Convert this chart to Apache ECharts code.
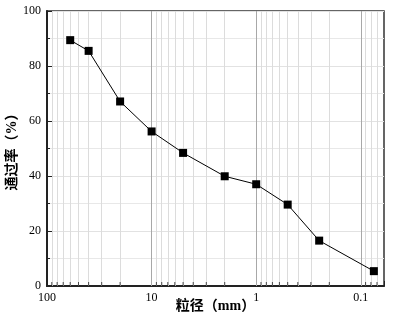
<!DOCTYPE html>
<html>
<head>
<meta charset="utf-8">
<script src="https://cdn.jsdelivr.net/npm/echarts@6/dist/echarts.min.js"></script>
<style>
  html, body { margin: 0; padding: 0; background: #fff; }
  #chart { width: 396px; height: 317px; }
</style>
</head>
<body>
<div id="chart"></div>
<script>
// 粒径 (mm) 和通过率 (%)
var sizes = [60, 40, 20, 10, 5, 2, 1, 0.5, 0.25, 0.075];
var passing = [89.4, 85.5, 67.1, 56.2, 48.4, 39.9, 37.0, 29.6, 16.5, 5.4];

// x 轴刻度标签 / 网格线位置
var xLabels = ['100', '10', '1', '0.1'];
var majorGrid = [10, 1, 0.1];
var minorGrid = [90, 80, 70, 60, 50, 40, 30, 20,
                 9, 8, 7, 6, 5, 4, 3, 2,
                 0.9, 0.8, 0.7, 0.6, 0.5, 0.4, 0.3, 0.2,
                 0.09, 0.08, 0.07];

var serif = '"Liberation Serif", "Times New Roman", serif';
var cjk = '"Liberation Serif", "Noto Sans CJK SC", serif';

var myChart = echarts.init(document.getElementById('chart'));

var gridLines = minorGrid.map(function (v) {
    return { xAxis: v, lineStyle: { color: '#dcdcdc', width: 1, type: 'solid' } };
}).concat(majorGrid.map(function (v) {
    return { xAxis: v, lineStyle: { color: '#a8a8a8', width: 1, type: 'solid' } };
}));

myChart.setOption({
    animation: false,
    grid: {
        left: 47,
        top: 11,
        right: 12,
        bottom: 31,
        containLabel: false,
        outerBoundsMode: 'none',
        show: true,
        borderColor: '#333',
        borderWidth: 1.5
    },
    xAxis: {
        type: 'log',
        logBase: 10,
        min: 0.06,
        max: 100,
        inverse: true,
        name: '粒径（mm）',
        nameLocation: 'middle',
        nameGap: 13,
        nameMoveOverlap: false,
        nameTextStyle: { fontFamily: cjk, fontWeight: 'bold', fontSize: 14, color: '#000' },
        axisLine: { show: true, onZero: false, lineStyle: { color: '#222', width: 2 } },
        axisTick: { show: true, inside: true, length: 5, lineStyle: { color: '#222' } },
        axisLabel: {
            fontFamily: serif,
            fontSize: 12,
            color: '#000',
            margin: 6,
            formatter: function (v) {
                var s = String(+v.toPrecision(6));
                return xLabels.indexOf(s) >= 0 ? s : '';
            }
        },
        splitLine: { show: false }
    },
    yAxis: {
        type: 'value',
        min: 0,
        max: 100,
        interval: 20,
        name: '通过率（%）',
        nameLocation: 'middle',
        nameGap: 28,
        nameMoveOverlap: false,
        nameTextStyle: { fontFamily: cjk, fontWeight: 'bold', fontSize: 14, color: '#000' },
        axisLine: { show: true, lineStyle: { color: '#222', width: 2 } },
        axisTick: { show: true, inside: true, length: 5, lineStyle: { color: '#222' } },
        minorTick: { show: true, splitNumber: 2, length: 3, lineStyle: { color: '#222' } },
        axisLabel: { fontFamily: serif, fontSize: 12, color: '#000', margin: 6 },
        splitLine: { show: true, lineStyle: { color: '#e2e2e2' } },
        minorSplitLine: { show: true, lineStyle: { color: '#e8e8e8' } }
    },
    series: [{
        type: 'line',
        data: sizes.map(function (s, i) { return [s, passing[i]]; }),
        symbol: 'rect',
        symbolSize: 8,
        itemStyle: { color: '#000' },
        lineStyle: { color: '#000', width: 1 },
        z: 5,
        markLine: {
            silent: true,
            symbol: 'none',
            label: { show: false },
            data: gridLines,
            z: 1
        }
    }, {
        // x 轴次刻度
        type: 'scatter',
        silent: true,
        symbol: 'rect',
        symbolSize: [1, 4],
        symbolOffset: [0, -2],
        itemStyle: { color: '#222' },
        data: minorGrid.map(function (v) { return [v, 0]; }),
        z: 6
    }]
});
</script>
</body>
</html>
